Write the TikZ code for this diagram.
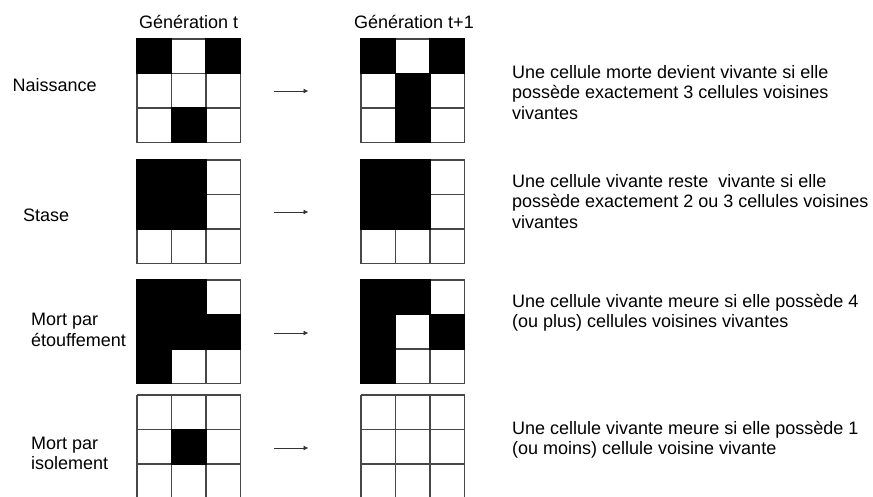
\documentclass[tikz,border=0pt]{standalone}
\usepackage{fontspec}
\setmainfont{Liberation Sans}
\usetikzlibrary{arrows.meta}
\tikzset{
  gridline/.style={draw=black!72, line width=1.1pt},
  alive/.style={fill=black},
  gridbox/.style={draw=none, inner sep=0pt, minimum width=103.5pt, minimum height=103.5pt, anchor=north west},
  txt/.style={font=\fontsize{18}{20.5}\selectfont, inner sep=0pt, anchor=base west, align=left},
  flow/.style={draw=black!80, line width=0.9pt, -{Latex[length=5pt,width=5pt]}},
}
\newcommand\lifegrid[3]{%
  \node[gridbox] (#1) at (#2,#3) {};
  \foreach \k in {0,1,2,3} {
    \draw[gridline] (#2+\k*34.5,#3) -- (#2+\k*34.5,#3+103.5);
    \draw[gridline] (#2,#3+\k*34.5) -- (#2+103.5,#3+\k*34.5);
  }
}
\newcommand\alivecells[3]{%
  \foreach \r/\c in {#3} {
    \fill[alive] (#1+\c*34.5-0.6,#2+\r*34.5-0.6) rectangle ++(35.7,35.7);
  }
}
\begin{document}
\begin{tikzpicture}[x=1pt,y=-1pt]
\useasboundingbox (0,0) rectangle (873,496);
\fill[white] (0,0) rectangle (873,496);
\clip (0,0) rectangle (873,496);

% headers
\node[txt] (h1) at (139,28) {Génération t};
\node[txt] (h2) at (354,28) {Génération t+1};

% row labels (anchor = baseline of the last line)
\node[txt] (l1) at (12.5,91.5) {Naissance};
\node[txt] (l2) at (23,221.5) {Stase};
\node[txt] (l3) at (31,346) {Mort par\\étouffement};
\node[txt] (l4) at (31,469.5) {Mort par\\isolement};

% grids
\lifegrid{g1l}{137}{39}
\alivecells{137}{39}{0/0,0/2,2/1}
\lifegrid{g1r}{361}{39}
\alivecells{361}{39}{0/0,0/2,1/1,2/1}

\lifegrid{g2l}{137}{160}
\alivecells{137}{160}{0/0,0/1,1/0,1/1}
\lifegrid{g2r}{361}{160}
\alivecells{361}{160}{0/0,0/1,1/0,1/1}

\lifegrid{g3l}{137}{280}
\alivecells{137}{280}{0/0,0/1,1/0,1/1,1/2,2/0}
\lifegrid{g3r}{361}{280}
\alivecells{361}{280}{0/0,0/1,1/0,1/2,2/0}

\lifegrid{g4l}{137}{395}
\alivecells{137}{395}{1/1}
\lifegrid{g4r}{361}{395}

% arrows
\coordinate (a1s) at (274,91);  \coordinate (a1e) at (308.5,91);
\coordinate (a2s) at (274,212); \coordinate (a2e) at (308.5,212);
\coordinate (a3s) at (274,333); \coordinate (a3e) at (308.5,333);
\coordinate (a4s) at (274,448); \coordinate (a4e) at (308.5,448);
\draw[flow] (a1s) -- (a1e);
\draw[flow] (a2s) -- (a2e);
\draw[flow] (a3s) -- (a3e);
\draw[flow] (a4s) -- (a4e);

% descriptions (anchor = baseline of the last line)
\node[txt] (d1) at (512,119) {Une cellule morte devient vivante si elle\\possède exactement 3 cellules voisines\\vivantes};
\node[txt] (d2) at (512,228) {Une cellule vivante reste\ \ vivante si elle\\possède exactement 2 ou 3 cellules voisines\\vivantes};
\node[txt] (d3) at (512,327.5) {Une cellule vivante meure si elle possède 4\\(ou plus) cellules voisines vivantes};
\node[txt] (d4) at (512,454.5) {Une cellule vivante meure si elle possède 1\\(ou moins) cellule voisine vivante};
\end{tikzpicture}
\end{document}
